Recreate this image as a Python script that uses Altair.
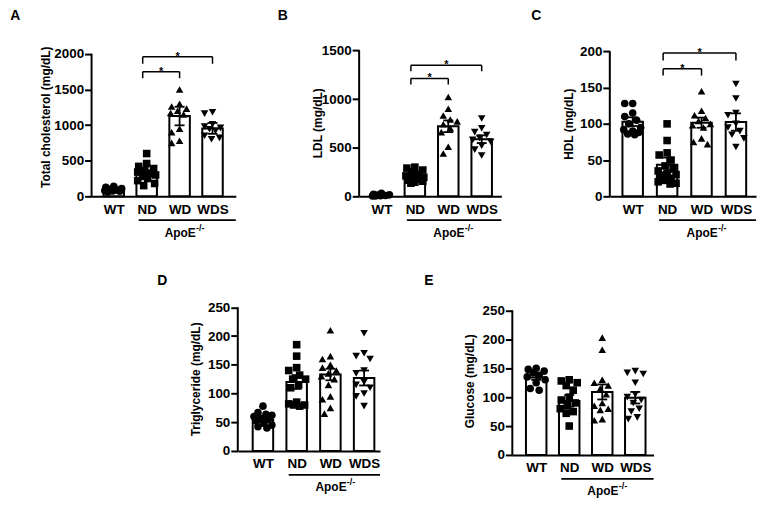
import altair as alt
import pandas as pd
import numpy as np

FONT = "Liberation Sans"
GROUPS = ["WT", "ND", "WD", "WDS"]
SHAPES = ["circle", "square", "triangle-up", "triangle-down"]

# ---------------- data ----------------
A_TITLE = "Total cholesterol (mg/dL)"
A_WT = [140, 125, 110, 100, 90, 80, 75, 70, 60]
A_ND = [600, 460, 420, 390, 360, 340, 320, 300, 280, 250, 220, 180, 150]
A_WD = [1500, 1300, 1260, 1230, 1200, 1170, 1150, 950, 900, 780, 750]
A_WDS = [1180, 1160, 1010, 980, 960, 940, 920, 850, 820, 800]
A_MEAN = [93, 325, 1126, 953]
A_SEM = [8, 40, 130, 76]
A_TICKS = [0, 500, 1000, 1500, 2000]
A_BR_LEVEL = [1749, 1958]
A_BR_DROP = [1657, 1860]

B_TITLE = "LDL (mg/dL)"
B_WT = [30, 22, 15, 12, 8, 5, 4, 3]
B_ND = [300, 290, 270, 250, 230, 210, 195, 185, 175, 165, 155, 145, 135]
B_WD = [1020, 900, 830, 790, 770, 740, 700, 660, 510, 440]
B_WDS = [800, 700, 660, 630, 600, 580, 560, 520, 480, 420]
B_MEAN = [10, 204, 720, 587]
B_SEM = [3, 15, 60, 40]
B_TICKS = [0, 500, 1000, 1500]
B_BR_LEVEL = [1211, 1347]
B_BR_DROP = [1149, 1285]

C_TITLE = "HDL (mg/dL)"
C_WT = [128, 128, 115, 110, 105, 100, 95, 92, 90, 88, 86, 85]
C_ND = [100, 77, 60, 57, 50, 42, 38, 35, 32, 30, 28, 25, 22, 20, 18, 17]
C_WD = [145, 118, 112, 108, 104, 100, 98, 95, 80, 75, 72]
C_WDS = [155, 135, 115, 112, 100, 95, 90, 85, 80, 68]
C_MEAN = [103, 43.5, 101.6, 102.5]
C_SEM = [6, 10, 7, 12]
C_TICKS = [0, 50, 100, 150, 200]
C_BR_LEVEL = [176, 197.7]
C_BR_DROP = [166.6, 187.6]

D_TITLE = "Triglyceride (mg/dL)"
D_WT = [78, 67, 64, 62, 60, 57, 55, 52, 48, 45, 42, 40]
D_ND = [185, 165, 145, 140, 132, 125, 125, 115, 110, 85, 82, 80, 80, 78]
D_WD = [210, 165, 160, 150, 145, 140, 135, 130, 125, 115, 95, 90, 75, 65]
D_WDS = [205, 170, 165, 160, 140, 135, 120, 115, 110, 100, 95, 78]
D_MEAN = [54, 120, 133, 127]
D_SEM = [4, 12, 10, 13]
D_TICKS = [0, 50, 100, 150, 200, 250]

E_TITLE = "Glucose (mg/dL)"
E_WT = [150, 148, 145, 142, 138, 135, 130, 125, 115, 112]
E_ND = [130, 128, 125, 120, 112, 100, 95, 90, 85, 80, 75, 72, 50]
E_WD = [203, 182, 130, 125, 120, 115, 105, 90, 85, 80, 78, 62, 60]
E_WDS = [145, 142, 140, 125, 105, 100, 95, 90, 80, 75, 65, 62]
E_MEAN = [134, 93.5, 109, 99]
E_SEM = [4, 10, 13, 10]
E_TICKS = [0, 50, 100, 150, 200, 250]

# ---------------- layout (pixels) ----------------
LAYOUT = {
    "A": dict(w=145, h=147, x0=0.326, x1=4.707, ymax=2051.6, lx=-76.7, ly=-34, tx=-46, ty=67),
    "B": dict(w=143, h=147, x0=0.333, x1=4.589, ymax=1503, lx=-76.7, ly=-34, tx=-42, ty=73),
    "C": dict(w=147, h=147, x0=0.335, x1=4.584, ymax=201.8, lx=-74, ly=-34, tx=-42, ty=74),
    "D": dict(w=143, h=145, x0=0.254, x1=4.472, ymax=251, lx=-76, ly=-25.6, tx=-42.5, ty=72.5),
    "E": dict(w=142, h=149, x0=0.277, x1=4.554, ymax=256.4, lx=-84, ly=-25.6, tx=-43.5, ty=74.5),
}


def swarm(values, H, ymax, r=4.0, lim=9):
    """Simple deterministic beeswarm: pixel x-offsets so markers overlap less."""
    placed = []
    res = [0.0] * len(values)
    cands = sorted(np.arange(-lim, lim + 0.5, 1.0), key=abs)
    for i in sorted(range(len(values)), key=lambda k: -values[k]):
        y = values[i] * H / ymax
        best, bestd = 0.0, -1
        for c in cands:
            d = min([np.hypot(c - px, y - py) for px, py in placed] + [99])
            if d >= 2 * r:
                best = c
                break
            if d > bestd:
                bestd, best = d, c
        placed.append((best, y))
        res[i] = float(best)
    return res


def panel(letter, ytitle, groups_pts, means, sems, ticks, br_level=None, br_drop=None):
    L = LAYOUT[letter]
    W, H = L["w"], L["h"]
    step = W / (L["x1"] - L["x0"])
    xs = alt.Scale(domain=[L["x0"], L["x1"]], nice=False, zero=False)
    ys = alt.Scale(domain=[0, L["ymax"]], nice=False, zero=True)

    xaxis = alt.Axis(values=[1, 2, 3, 4],
                     labelExpr="['','WT','ND','WD','WDS'][datum.value]",
                     ticks=False, domainWidth=2, domainColor="black",
                     labelFont=FONT, labelFontWeight="bold", labelFontSize=13.5,
                     labelColor="black", labelPadding=6, title=None, grid=False,
                     labelFlush=False, labelOverlap=False, labelBound=False)
    yaxis = alt.Axis(values=ticks, format="d", domain=False, tickSize=7, tickWidth=2,
                     tickColor="black", labelFont=FONT, labelFontWeight="bold",
                     labelFontSize=13.5, labelColor="black", labelPadding=1,
                     grid=False, title=ytitle, titleFont=FONT, titleFontSize=12,
                     titleFontWeight="bold", titleColor="black", titleX=L["tx"],
                     titleY=L["ty"], titleAlign="center",
                     titleBaseline="middle", labelFlush=False, labelOverlap=False)

    def X(f):
        return alt.X(f, scale=xs, axis=xaxis)

    def Y(f):
        return alt.Y(f, scale=ys, axis=yaxis)

    bars_df = pd.DataFrame({"g": GROUPS, "c": [1, 2, 3, 4], "mean": means, "sem": sems})
    hw = 10.3 / step
    cap = 5.0 / step
    base = alt.Chart(bars_df)

    bars = base.transform_calculate(
        xl=f"datum.c - {hw}", xr=f"datum.c + {hw}"
    ).mark_bar(fill="white", stroke="black", strokeWidth=2).encode(
        x=X("xl:Q"), x2="xr:Q", y=Y("mean:Q"), y2=alt.datum(0),
    )

    rows = []
    for gi, (g, vals) in enumerate(zip(GROUPS, groups_pts)):
        offs = swarm(vals, H, L["ymax"])
        for v, o in zip(vals, offs):
            rows.append({"g": g, "c": gi + 1, "v": v, "j": o})
    pts_df = pd.DataFrame(rows)
    pts = alt.Chart(pts_df).transform_calculate(
        xp=f"datum.c + datum.j / {step}"
    ).mark_point(filled=True, color="black", opacity=1, size=58).encode(
        x=X("xp:Q"), y=Y("v:Q"),
        shape=alt.Shape("g:N", scale=alt.Scale(domain=GROUPS, range=SHAPES), legend=None),
    )

    err = base.transform_calculate(
        lo="datum.mean - datum.sem", hi="datum.mean + datum.sem",
        cl=f"datum.c - {cap}", cr=f"datum.c + {cap}")
    stem = err.mark_rule(color="black", strokeWidth=1.8).encode(
        x=X("c:Q"), y=Y("lo:Q"), y2="hi:Q")
    cap_hi = err.mark_rule(color="black", strokeWidth=1.8).encode(
        x=X("cl:Q"), x2="cr:Q", y=Y("hi:Q"))
    cap_lo = err.mark_rule(color="black", strokeWidth=1.8).encode(
        x=X("cl:Q"), x2="cr:Q", y=Y("lo:Q"))

    one = alt.Chart(pd.DataFrame({"s": [2], "m": [3], "top": [ticks[-1]]}))
    yline = one.mark_rule(color="black", strokeWidth=2).encode(
        x=alt.value(0), y=Y("top:Q"), y2=alt.datum(0))

    apo_line = one.transform_calculate(xs_=f"datum.s - {8.0 / step}").mark_rule(
        color="black", strokeWidth=1.8).encode(
        x=X("xs_:Q"), x2=alt.value(W), y=alt.value(H + 24))
    apo_txt = one.mark_text(align="left", baseline="middle", dx=-15, font=FONT,
                            fontSize=12, fontWeight="bold", color="black").encode(
        x=X("m:Q"), y=alt.value(H + 36.5), text=alt.value("ApoE"))
    apo_sup = one.mark_text(align="left", baseline="middle", dx=16.5, font=FONT,
                            fontSize=9, fontWeight="bold", color="black").encode(
        x=X("m:Q"), y=alt.value(H + 31.5), text=alt.value("-/-"))
    lab = one.mark_text(align="center", baseline="middle", font=FONT, fontSize=14,
                        fontWeight="bold", color="black").encode(
        x=alt.value(L["lx"]), y=alt.value(L["ly"]), text=alt.value(letter))

    layers = [bars, pts, stem, cap_hi, cap_lo, yline, apo_line, apo_txt, apo_sup, lab]

    if br_level is not None:
        left = 4.0 / step
        br_df = pd.DataFrame({"a": [2, 2], "b": [3, 4], "lev": br_level, "drop": br_drop})
        br = alt.Chart(br_df).transform_calculate(
            xa=f"datum.a - {left}", mid=f"(datum.a - {left} + datum.b) / 2")
        h = br.mark_rule(color="black", strokeWidth=1.5).encode(
            x=X("xa:Q"), x2="b:Q", y=Y("lev:Q"))
        tl = br.mark_rule(color="black", strokeWidth=1.5).encode(
            x=X("xa:Q"), y=Y("lev:Q"), y2="drop:Q")
        tr = br.mark_rule(color="black", strokeWidth=1.5).encode(
            x=X("b:Q"), y=Y("lev:Q"), y2="drop:Q")
        star = br.mark_text(text="*", font=FONT, fontSize=11, fontWeight="bold",
                            baseline="alphabetic", dy=3, color="black").encode(
            x=X("mid:Q"), y=Y("lev:Q"))
        layers += [h, tl, tr, star]

    return alt.layer(*layers).properties(width=W, height=H)


def spacer(w):
    return alt.Chart(pd.DataFrame({"a": [0]})).mark_point(opacity=0, size=1).encode(
        x=alt.value(0), y=alt.value(0)).properties(width=w, height=10)


pA = panel("A", A_TITLE, [A_WT, A_ND, A_WD, A_WDS], A_MEAN, A_SEM, A_TICKS, A_BR_LEVEL, A_BR_DROP)
pB = panel("B", B_TITLE, [B_WT, B_ND, B_WD, B_WDS], B_MEAN, B_SEM, B_TICKS, B_BR_LEVEL, B_BR_DROP)
pC = panel("C", C_TITLE, [C_WT, C_ND, C_WD, C_WDS], C_MEAN, C_SEM, C_TICKS, C_BR_LEVEL, C_BR_DROP)
pD = panel("D", D_TITLE, [D_WT, D_ND, D_WD, D_WDS], D_MEAN, D_SEM, D_TICKS)
pE = panel("E", E_TITLE, [E_WT, E_ND, E_WD, E_WDS], E_MEAN, E_SEM, E_TICKS)

top = alt.hconcat(pA, spacer(124), pB, spacer(109), pC, spacing=0, bounds="flush")
bottom = alt.hconcat(spacer(147), pD, spacer(133), pE, spacing=0, bounds="flush")

chart = alt.vconcat(top, bottom, spacing=258, bounds="flush").properties(
    padding={"left": 2, "top": 0, "right": 5, "bottom": 5},
    background="white",
).configure_view(stroke=None).configure_concat(spacing=0)

chart.save("out.html", embed_options={"renderer": "svg", "actions": False})
